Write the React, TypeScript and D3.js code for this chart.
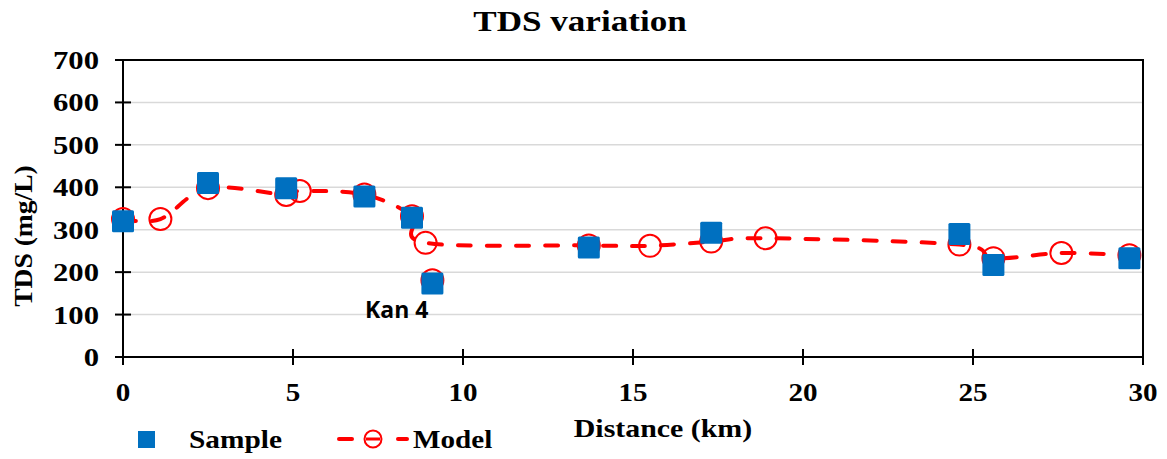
import React from "react";
import * as d3 from "d3";

const sampleDist = [0, 2.5, 4.8, 7.1, 8.5, 9.1, 13.7, 17.3, 24.6, 25.6, 29.6];
const sampleTDS = [320, 410, 398, 378, 328, 173, 258, 293, 290, 217, 233];

const modelDist = [0, 1.1, 2.5, 4.8, 5.2, 7.1, 8.5, 8.9, 13.7, 15.5, 17.3, 18.9, 24.6, 25.6, 27.6, 29.6];
const modelTDS = [325, 325, 398, 382, 391, 383, 332, 269, 263, 262, 272, 280, 265, 233, 245, 240];

const kanDist = [9.1];
const kanTDS = [181];

const xTicks = [0, 5, 10, 15, 20, 25, 30];
const yTicks = [0, 100, 200, 300, 400, 500, 600, 700];

const W = 1167;
const H = 459;
const L = 123, R = 1143, T = 60, B = 357;
const serif = "'Liberation Serif', 'Times New Roman', serif";

function ST(props: { x: number; y: number; s: number; size: number; anchor?: string; children: any }) {
  return (
    <text
      transform={`translate(${props.x},${props.y}) scale(${props.s},1)`}
      textAnchor={props.anchor || "start"}
      fontFamily={serif}
      fontWeight="bold"
      fontSize={props.size}
    >
      {props.children}
    </text>
  );
}

export default function App() {
  const x = d3.scaleLinear().domain([0, 30]).range([L, R]);
  const y = d3.scaleLinear().domain([0, 700]).range([B, T]);

  const modelPts: [number, number][] = modelDist.map((d, i) => [x(d), y(modelTDS[i])]);
  const line = d3.line().curve(d3.curveCatmullRom.alpha(0))(modelPts) || "";

  const sq = 22;
  const r = 11;
  const red = "#ff0000";

  return (
    <svg width={W} height={H} style={{ position: "absolute", left: 0, top: 0 }}>
      <rect x={0} y={0} width={W} height={H} fill="white" />
      <ST x={580} y={31} s={1.17} size={30} anchor="middle">TDS variation</ST>
      {yTicks.map((t) => (
        <line key={"g" + t} x1={L} x2={R} y1={y(t)} y2={y(t)} stroke="#d9d9d9" strokeWidth={1.5} />
      ))}
      <rect x={L} y={T} width={R - L} height={B - T} fill="none" stroke="black" strokeWidth={2} />
      {yTicks.map((t) => (
        <g key={"y" + t}>
          <line x1={L - 8} x2={L + 8} y1={y(t)} y2={y(t)} stroke="black" strokeWidth={2} />
          <ST x={99} y={y(t) + 9} s={1.18} size={26} anchor="end">{t}</ST>
        </g>
      ))}
      {xTicks.map((t) => (
        <g key={"x" + t}>
          <line x1={x(t)} x2={x(t)} y1={B - 8} y2={B + 8} stroke="black" strokeWidth={2} />
          <ST x={x(t)} y={401} s={1.12} size={26} anchor="middle">{t}</ST>
        </g>
      ))}
      <text
        transform={`translate(32,236) rotate(-90) scale(1.06,1)`}
        textAnchor="middle"
        fontFamily={serif}
        fontWeight="bold"
        fontSize={26}
      >
        TDS (mg/L)
      </text>
      <ST x={663} y={437} s={1.15} size={26} anchor="middle">Distance (km)</ST>

      <path
        d={line}
        fill="none"
        stroke={red}
        strokeWidth={4}
        strokeLinecap="round"
        strokeDasharray="13,16"
      />
      {modelDist.map((d, i) => (
        <circle key={"m" + i} cx={x(d)} cy={y(modelTDS[i])} r={r} fill="none" stroke={red} strokeWidth={2} />
      ))}
      {kanDist.map((d, i) => (
        <circle key={"k" + i} cx={x(d)} cy={y(kanTDS[i])} r={r} fill="none" stroke={red} strokeWidth={2} />
      ))}
      {sampleDist.map((d, i) => (
        <rect
          key={"s" + i}
          x={x(d) - sq / 2}
          y={y(sampleTDS[i]) - sq / 2}
          width={sq}
          height={sq}
          rx={1.5}
          fill="#0070C0"
        />
      ))}
      <text x={365} y={318} fontFamily="'Open Sans', sans-serif" fontWeight="bold" fontSize={23}>
        Kan 4
      </text>

      <rect x={138} y={431} width={17} height={17} fill="#0070C0" />
      <ST x={189} y={448} s={1.13} size={26}>Sample</ST>
      <line x1={339} x2={352} y1={439} y2={439} stroke={red} strokeWidth={4} strokeLinecap="round" />
      <line x1={398} x2={407} y1={439} y2={439} stroke={red} strokeWidth={4} strokeLinecap="round" />
      <line x1={366} x2={380} y1={439} y2={439} stroke={red} strokeWidth={3} />
      <circle cx={373} cy={439} r={8.5} fill="none" stroke={red} strokeWidth={2} />
      <ST x={413} y={448} s={1.12} size={26}>Model</ST>
    </svg>
  );
}
